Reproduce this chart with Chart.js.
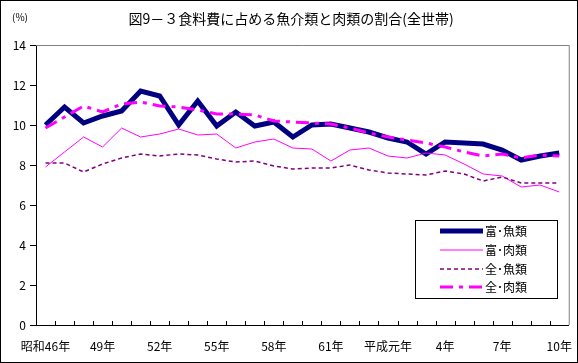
<!DOCTYPE html>
<html lang="ja">
<head>
<meta charset="utf-8">
<script src="https://cdn.jsdelivr.net/npm/chart.js@4.4.1/dist/chart.umd.min.js"></script>
<style>
  html, body { margin: 0; padding: 0; background: #fff; }
  canvas { display: block; }
</style>
</head>
<body>
<canvas id="grafico" width="578" height="363"></canvas>
<script>
// 年次（昭和46年〜平成10年）
const years = [
  "昭和46年", "47年", "48年", "49年", "50年", "51年", "52年", "53年", "54年",
  "55年", "56年", "57年", "58年", "59年", "60年", "61年", "62年", "63年",
  "平成元年", "2年", "3年", "4年", "5年", "6年", "7年", "8年", "9年", "10年"
];

// 割合（％）
const fishRich = [10.0, 10.9, 10.1, 10.45, 10.7, 11.7, 11.45, 10.0, 11.2, 9.95, 10.65, 9.95, 10.15, 9.4,
  10.0, 10.05, 9.85, 9.65, 9.35, 9.15, 8.55, 9.15, 9.1, 9.05, 8.75, 8.25, 8.45, 8.6];
const meatRich = [7.9, 8.65, 9.4, 8.9, 9.85, 9.4, 9.55, 9.8, 9.5, 9.55, 8.85, 9.15, 9.3, 8.85,
  8.8, 8.2, 8.75, 8.85, 8.45, 8.35, 8.6, 8.5, 8.05, 7.55, 7.45, 6.9, 7.0, 6.65];
const fishAll = [8.1, 8.1, 7.65, 8.05, 8.35, 8.55, 8.45, 8.55, 8.5, 8.3, 8.15, 8.2, 7.95, 7.8,
  7.85, 7.85, 8.0, 7.75, 7.6, 7.55, 7.5, 7.7, 7.55, 7.2, 7.4, 7.1, 7.1, 7.1];
const meatAll = [9.85, 10.4, 10.95, 10.65, 11.05, 11.15, 10.95, 10.9, 10.75, 10.55, 10.55, 10.5, 10.2, 10.15,
  10.1, 10.05, 9.85, 9.6, 9.4, 9.25, 9.1, 8.9, 8.65, 8.45, 8.55, 8.35, 8.5, 8.45];

const seriesNames = ["富･魚類", "富･肉類", "全･魚類", "全･肉類"];

const FONT = "'Noto Sans CJK JP', 'Noto Sans', sans-serif";

// タイトル、枠線、目盛り、凡例を描く
const extras = {
  id: "extras",
  afterDraw(chart) {
    const ctx = chart.ctx;
    const area = chart.chartArea;
    ctx.save();

    // 外枠
    ctx.strokeStyle = "#000";
    ctx.lineWidth = 1;
    ctx.strokeRect(0.5, 0.5, chart.width - 1, chart.height - 1);

    // プロット領域の上と右
    ctx.strokeStyle = "#808080";
    ctx.beginPath();
    ctx.moveTo(area.left, area.top + 0.5);
    ctx.lineTo(area.right + 0.5, area.top + 0.5);
    ctx.lineTo(area.right + 0.5, area.bottom);
    ctx.stroke();

    // x軸の内向き目盛り
    ctx.strokeStyle = "#000";
    const step = (area.right - area.left) / years.length;
    ctx.beginPath();
    for (let k = 1; k < years.length; k++) {
      const x = Math.round(area.left + k * step) + 0.5;
      ctx.moveTo(x, area.bottom);
      ctx.lineTo(x, area.bottom - 4);
    }
    ctx.stroke();

    // タイトル
    ctx.fillStyle = "#000";
    ctx.textBaseline = "middle";
    ctx.textAlign = "center";
    ctx.font = "14px " + FONT;
    ctx.fillText("図9－３食料費に占める魚介類と肉類の割合(全世帯)", 291, 19);
    ctx.font = "10px " + FONT;
    ctx.fillText("(%)", 20, 17);

    // 凡例
    const box = { x: 415, y: 220, w: 142, h: 78 };
    ctx.fillStyle = "#fff";
    ctx.fillRect(box.x, box.y, box.w, box.h);
    ctx.strokeStyle = "#000";
    ctx.strokeRect(box.x + 0.5, box.y + 0.5, box.w, box.h);
    const rows = [231, 250, 269, 287];
    chart.data.datasets.forEach((ds, i) => {
      const y = rows[i];
      ctx.strokeStyle = ds.borderColor;
      ctx.lineWidth = ds.borderWidth;
      ctx.setLineDash(ds.borderDash || []);
      ctx.beginPath();
      ctx.moveTo(440, y);
      ctx.lineTo(483, y);
      ctx.stroke();
      ctx.setLineDash([]);
      ctx.fillStyle = "#000";
      ctx.textAlign = "left";
      ctx.font = "12px " + FONT;
      ctx.fillText(ds.label, 485, y);
    });
    ctx.restore();
  }
};

const ctx = document.getElementById("grafico").getContext("2d");

new Chart(ctx, {
  type: "line",
  data: {
    labels: years,
    datasets: [
      { label: seriesNames[0], data: fishRich, borderColor: "#000080", borderWidth: 5, order: 4 },
      { label: seriesNames[1], data: meatRich, borderColor: "#FF00FF", borderWidth: 1, order: 3 },
      { label: seriesNames[2], data: fishAll, borderColor: "#800080", borderWidth: 1.5, borderDash: [4, 3], order: 2 },
      { label: seriesNames[3], data: meatAll, borderColor: "#FF00FF", borderWidth: 3, borderDash: [13, 6, 4, 6], order: 1 }
    ]
  },
  options: {
    responsive: false,
    animation: false,
    devicePixelRatio: 1,
    layout: { padding: { top: 45, right: 6, left: 0, bottom: 0 } },
    elements: {
      point: { radius: 0 },
      line: { tension: 0, fill: false }
    },
    plugins: {
      legend: { display: false },
      tooltip: { enabled: false }
    },
    scales: {
      x: {
        offset: true,
        grid: { display: false },
        border: { display: true, color: "#000", width: 1 },
        ticks: {
          autoSkip: false,
          maxRotation: 0,
          padding: 6,
          color: "#000",
          font: { family: FONT, size: 12 },
          callback: (val, i) => (i % 3 === 0 ? years[i] : "")
        },
        afterFit: (scale) => { scale.height = 38; }
      },
      y: {
        min: 0,
        max: 14,
        ticks: {
          stepSize: 2,
          padding: 4,
          color: "#000",
          font: { family: FONT, size: 12 }
        },
        grid: { drawOnChartArea: false, tickLength: 6, color: "#000" },
        border: { display: true, color: "#000", width: 1 },
        afterFit: (scale) => { scale.width = 36; }
      }
    }
  },
  plugins: [extras]
});
</script>
</body>
</html>
